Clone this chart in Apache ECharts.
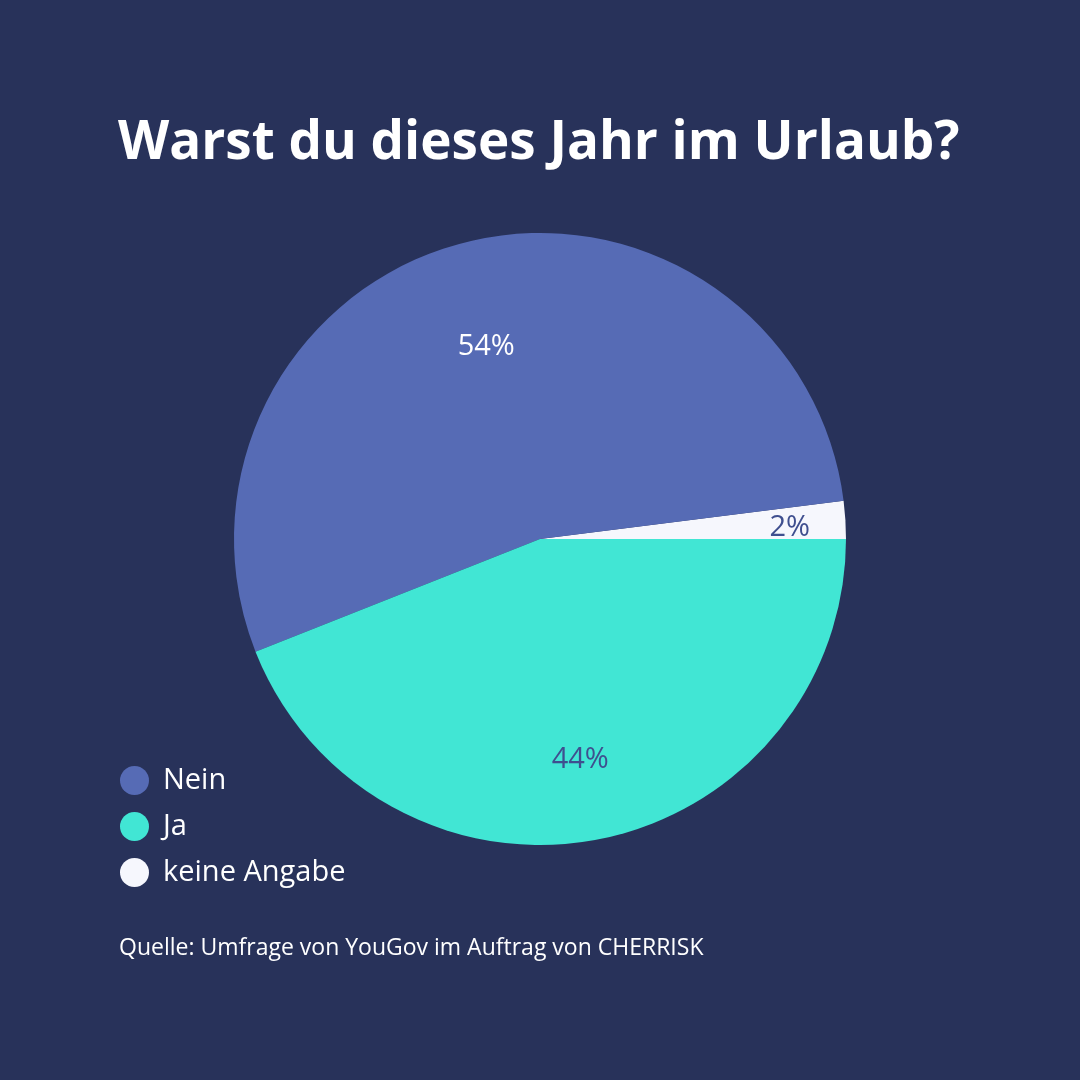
<!DOCTYPE html>
<html>
<head>
<meta charset="utf-8">
<script src="https://cdn.jsdelivr.net/npm/echarts@6/dist/echarts.min.js"></script>
<style>
html,body{margin:0;padding:0;background:#28325A;}
#chart{width:1080px;height:1080px;}
</style>
</head>
<body>
<div id="chart"></div>
<script>
const categories = ['keine Angabe', 'Nein', 'Ja'];
const values = [2, 54, 44];
const legendOrder = ['Nein', 'Ja', 'keine Angabe'];
const titleText = 'Warst du dieses Jahr im Urlaub?';
const sourceText = 'Quelle: Umfrage von YouGov im Auftrag von CHERRISK';

const colors = { 'Nein': '#566BB5', 'Ja': '#41E6D4', 'keine Angabe': '#F6F7FD' };
const labelColors = { 'Nein': '#FFFFFF', 'Ja': '#3F4F8F', 'keine Angabe': '#3F4F8F' };
const labelOffsets = { 'Nein': [-15, -41], 'Ja': [11, 67], 'keine Angabe': [94, -1] };
const FONT = 'Open Sans';

const chart = echarts.init(document.getElementById('chart'));
chart.setOption({
  backgroundColor: '#28325A',
  animation: false,
  title: [
    { text: titleText, left: 118, top: 117, padding: 0,
      textStyle: { color: '#FFFFFF', fontFamily: FONT, fontWeight: 'bold', fontSize: 53 } },
    { text: sourceText, left: 119, top: 937, padding: 0,
      textStyle: { color: '#FFFFFF', fontFamily: FONT, fontWeight: 'normal', fontSize: 23 } }
  ],
  legend: {
    data: legendOrder,
    orient: 'vertical',
    left: 120, top: 766, padding: 0,
    icon: 'circle',
    itemWidth: 29, itemHeight: 29, itemGap: 17,
    textStyle: { color: '#FFFFFF', fontFamily: FONT, fontSize: 29, padding: [0, 0, 0, 9] }
  },
  series: [{
    type: 'pie',
    center: [540, 539],
    radius: 306,
    startAngle: 0,
    clockwise: false,
    silent: true,
    label: { show: true, position: 'inside', formatter: '{c}%', fontFamily: FONT, fontSize: 29 },
    labelLine: { show: false },
    itemStyle: { borderWidth: 0 },
    data: categories.map((name, i) => ({
      name: name,
      value: values[i],
      itemStyle: { color: colors[name] },
      label: { color: labelColors[name], offset: labelOffsets[name] }
    }))
  }]
});
</script>
</body>
</html>
